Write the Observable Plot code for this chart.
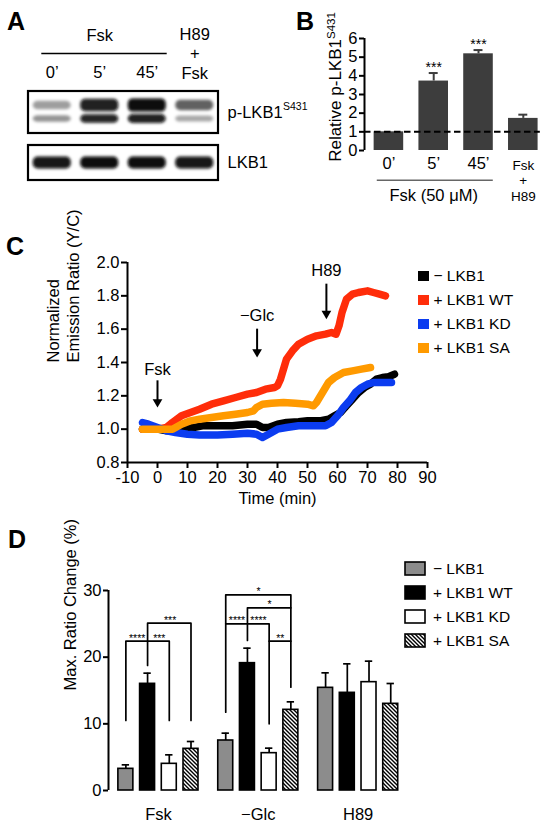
<!DOCTYPE html>
<html><head><meta charset="utf-8">
<script src="https://cdn.jsdelivr.net/npm/d3@7"></script>
<script src="https://cdn.jsdelivr.net/npm/@observablehq/plot@0.6"></script>
<style>
body{margin:0;background:#fff;}
#fig{position:relative;width:548px;height:830px;overflow:hidden;font-family:"Liberation Sans",Arial,Helvetica,sans-serif;color:#000;}
#fig svg{position:absolute;overflow:visible;}
.letter{position:absolute;font-weight:bold;font-size:25px;line-height:1;}
</style></head><body><div id="fig"></div>
<script>
// ---------- Panel A (western blot) ----------
const blotLanes = ["0’", "5’", "45’", "H89\n+\nFsk"];
const pLKB1Upper = [0.38, 0.92, 1.0, 0.62];
const pLKB1Lower = [0.42, 0.9, 0.92, 0.34];
const totalLKB1 = [0.96, 1.0, 1.0, 0.96];

// ---------- Panel B ----------
const bLabels = ["0’", "5’", "45’", "Fsk\n+\nH89"];
const bValues = [1.0, 3.72, 5.18, 1.72];
const bErrors = [0, 0.43, 0.2, 0.2];
const bStars = ["", "***", "***", ""];
const bTicks = [0, 1, 2, 3, 4, 5, 6];

// ---------- Panel C ----------
const cSeries = ["− LKB1", "+ LKB1 WT", "+ LKB1 KD", "+ LKB1 SA"];
const cColors = ["#000000", "#ff2d0a", "#0b3cf0", "#ff9a00"];
const traceNoLKB1 = [[-5,1.00],[-3,1.01],[0,1.00],[3,0.99],[6,0.99],[9,1.00],[12,1.01],[15,1.02],[20,1.02],[25,1.02],[30,1.03],[33,1.03],[35,1.01],[37,1.01],[40,1.03],[43,1.04],[47,1.045],[50,1.05],[54,1.05],[57,1.06],[59,1.08],[61,1.10],[63,1.14],[65,1.18],[67,1.22],[69,1.25],[71,1.27],[73,1.30],[75,1.31],[77,1.315],[79,1.33]];
const traceWT = [[-5,1.00],[0,1.00],[3,1.01],[5,1.04],[8,1.08],[11,1.10],[14,1.12],[18,1.15],[22,1.17],[26,1.19],[30,1.21],[33,1.22],[36,1.24],[39,1.25],[40,1.26],[41,1.30],[42,1.36],[43,1.42],[45,1.47],[47,1.51],[50,1.54],[53,1.56],[56,1.57],[58,1.58],[59.5,1.57],[60.5,1.62],[61.5,1.70],[63,1.78],[65,1.81],[67,1.82],[70,1.83],[72,1.82],[74,1.81],[76,1.80]];
const traceKD = [[-5,1.04],[-3,1.03],[0,1.01],[3,0.99],[6,0.98],[10,0.97],[14,0.965],[20,0.965],[25,0.97],[30,0.975],[33,0.97],[35,0.95],[37,0.97],[40,1.00],[43,1.01],[47,1.02],[50,1.02],[53,1.02],[56,1.02],[58,1.04],[60,1.08],[62,1.13],[64,1.17],[66,1.22],[68,1.25],[70,1.27],[72,1.28],[75,1.28],[78,1.28]];
const traceSA = [[-5,1.00],[-2,1.00],[0,1.00],[3,1.00],[5,1.00],[8,1.03],[11,1.05],[14,1.06],[18,1.07],[22,1.08],[26,1.09],[30,1.10],[32,1.11],[33,1.13],[35,1.15],[38,1.155],[42,1.16],[46,1.155],[50,1.15],[52,1.14],[53,1.16],[55,1.22],[57,1.28],[59,1.31],[62,1.34],[65,1.35],[68,1.36],[71,1.37]];
const cEvents = ["Fsk", "−Glc", "H89"];
const cEventTime = [0, 33.2, 56.3];
const cEventTip = [1.13, 1.43, 1.66];
const cEventTop = [1.29, 1.60, 1.87];
const cEventLabelY = [1.355, 1.68, 1.95];
const cXTicks = [-10, 0, 10, 20, 30, 40, 50, 60, 70, 80, 90];
const cYTicks = [0.8, 1.0, 1.2, 1.4, 1.6, 1.8, 2.0];

// ---------- Panel D ----------
const dGroups = ["Fsk", "−Glc", "H89"];
const dSeries = ["− LKB1", "+ LKB1 WT", "+ LKB1 KD", "+ LKB1 SA"];
const dFills = ["#8c8c8c", "#000000", "#ffffff", "url(#hatch)"];
const dFsk = [3.25, 16.0, 4.0, 6.25];
const dFskErr = [0.6, 1.6, 1.35, 1.1];
const dGlc = [7.5, 19.1, 5.6, 12.1];
const dGlcErr = [1.1, 2.25, 0.75, 1.2];
const dH89 = [15.4, 14.65, 16.25, 13.0];
const dH89Err = [2.25, 4.35, 3.15, 3.05];
const dTicks = [0, 10, 20, 30];
// significance brackets: group, from bar, to bar, level, end of left leg, end of right leg
const brGroup = [0, 0, 1, 1, 1, 1];
const brFrom = [0, 1, 0, 1, 0, 2];
const brTo = [2, 3, 3, 3, 2, 3];
const brLevel = [22.4, 25.1, 29.35, 27.4, 25.0, 22.4];
const brFromEnd = [10.5, 18.75, 11.75, 22.5, 25.0, 22.4];
const brToEnd = [10.5, 10.5, 15.5, 27.4, 10.0, 22.4];
const starGroup = [0, 0, 0, 1, 1, 1, 1, 1];
const starPos = [0.52, 1.54, 2.04, 1.51, 2.02, 0.52, 1.51, 2.51];
const starLevel = [22.4, 22.4, 25.1, 29.35, 27.4, 25.0, 25.0, 22.4];
const starText = ["****", "***", "***", "*", "*", "****", "****", "**"];

const FONT = '"Liberation Sans", Arial, Helvetica, sans-serif';
const fig = document.getElementById("fig");
function place(el, left, top) { el.style.left = left + "px"; el.style.top = top + "px"; fig.appendChild(el); return el; }
const baseStyle = (fs) => ({fontFamily: FONT, fontSize: fs + "px", background: "none", color: "#000", overflow: "visible"});

// ================= Panel A =================
const laneIdx = d3.range(blotLanes.length);
const bands = [];
laneIdx.forEach(i => {
  const hu = 3 + 3.6 * pLKB1Upper[i], hl = 2.2 + 2.4 * pLKB1Lower[i];
  bands.push({lane: i, y1: 105 - hu, y2: 105 + hu, k: pLKB1Upper[i]});
  bands.push({lane: i, y1: 118.5 - hl, y2: 118.5 + hl, k: pLKB1Lower[i]});
  bands.push({lane: i, y1: 156.5, y2: 168.5, k: totalLKB1[i]});
});
const plotA = Plot.plot({
  width: 320, height: 190, margin: 0,
  x: {domain: [-0.5, 3.5], range: [28, 218], axis: null},
  y: {domain: [0, 190], range: [0, 190], axis: null},
  style: baseStyle(16.5),
  marks: [
    Plot.rect([0], {x1: -0.5, x2: 3.5, y1: 91, y2: 133, fill: "white"}),
    Plot.rect([0], {x1: -0.5, x2: 3.5, y1: 145, y2: 180, fill: "white"}),
    Plot.rect(bands, {x1: d => d.lane - 0.4, x2: d => d.lane + 0.4, y1: "y1", y2: "y2", rx: 5, fill: "#080808", fillOpacity: "k", ariaDescription: "bands"}),
    Plot.rect([0], {x1: -0.5, x2: 3.5, y1: 91, y2: 133, fill: "none", stroke: "black", strokeWidth: 2.2}),
    Plot.rect([0], {x1: -0.5, x2: 3.5, y1: 145, y2: 180, fill: "none", stroke: "black", strokeWidth: 2.2}),
    Plot.text(["Fsk"], {x: 1, y: 35}),
    Plot.ruleY([53], {x1: -0.22, x2: 2.42, strokeWidth: 1.5}),
    Plot.text(blotLanes.slice(0, 3), {x: (d, i) => i, y: 72}),
    Plot.text([blotLanes[3]], {x: 3, y: 52.5, lineHeight: 1.2}),
    Plot.text(["p-LKB1"], {x: 3.69, y: 112, textAnchor: "start"}),
    Plot.text(["S431"], {x: 3.69, y: 106, dx: 55.5, textAnchor: "start", fontSize: 10.5}),
    Plot.text(["LKB1"], {x: 3.69, y: 162.5, textAnchor: "start"})
  ]
});
{
  const defs = d3.select(plotA).insert("defs", ":first-child");
  defs.append("filter").attr("id", "blotblur").attr("x", "-30%").attr("y", "-80%").attr("width", "160%").attr("height", "260%")
    .append("feGaussianBlur").attr("stdDeviation", 1.5);
  let g = d3.select(plotA).selectAll('g[aria-description="bands"]');
  if (g.empty()) g = d3.select(plotA).selectAll("rect[rx]");
  g.attr("filter", "url(#blotblur)");
}
place(plotA, 0, 0);

// ================= Panel B =================
const bIdx = d3.range(bValues.length);
const bErrIdx = bIdx.filter(i => bErrors[i] > 0);
const plotB = Plot.plot({
  width: 268, height: 200, marginLeft: 84, marginTop: 38, marginBottom: 50, marginRight: 2.8,
  x: {domain: [-0.545, 3.5], range: [84, 265.2], axis: null},
  y: {domain: [0, 6], axis: null},
  style: baseStyle(16.5),
  marks: [
    Plot.rect(bIdx, {x1: i => i - 0.33, x2: i => i + 0.33, y1: 0, y2: i => bValues[i], fill: "#3d3d3d"}),
    Plot.ruleX(bErrIdx, {x: i => i, y1: i => bValues[i], y2: i => bValues[i] + bErrors[i], stroke: "#3d3d3d", strokeWidth: 2}),
    Plot.ruleY(bErrIdx, {y: i => bValues[i] + bErrors[i], x1: i => i - 0.1, x2: i => i + 0.1, stroke: "#3d3d3d", strokeWidth: 2}),
    Plot.ruleY([1], {x1: -0.545, x2: 3.38, strokeDasharray: "6.5,3.5", strokeWidth: 2}),
    Plot.text(bIdx, {x: i => i, y: i => bValues[i] + bErrors[i], text: i => bStars[i], lineAnchor: "bottom", dy: -1, fontSize: 14}),
    Plot.ruleX([-0.545], {y1: 0, y2: 6, strokeWidth: 2}),
    Plot.axisY({ticks: bTicks, tickFormat: d => String(d), tickSize: 5, tickPadding: 2, strokeWidth: 2, label: null}),
    Plot.text(bLabels.slice(0, 3), {x: (d, i) => i, y: 0, dy: 13}),
    Plot.text([bLabels[3]], {x: 3, y: 0, dy: 8, lineAnchor: "top", lineHeight: 1.16, fontSize: 13.5}),
    Plot.ruleY([-1.6], {x1: -0.26, x2: 2.33, stroke: "#666", strokeWidth: 1.5}),
    Plot.text(["Fsk (50 μM)"], {x: 1, y: -2.4})
  ]
});
{
  const t = d3.select(plotB).append("text").attr("transform", "translate(61,87) rotate(-90)")
    .attr("text-anchor", "middle").attr("fill", "black").style("font-size", "17px");
  t.append("tspan").text("Relative p-LKB1");
  t.append("tspan").attr("dy", "-0.55em").style("font-size", "11.5px").text("S431");
}
place(plotB, 280, 0);

// ================= Panel C =================
const cTraces = [traceNoLKB1, traceWT, traceKD, traceSA];
const cData = cTraces.flatMap((tr, si) => tr.map(([t, r]) => ({s: cSeries[si], t, r})));
const evIdx = d3.range(cEvents.length);
const plotC = Plot.plot({
  width: 548, height: 300, marginLeft: 127, marginRight: 121, marginTop: 42, marginBottom: 58,
  x: {domain: [-10, 90], axis: null},
  y: {domain: [0.8, 2.0], axis: null},
  color: {domain: cSeries, range: cColors},
  style: baseStyle(16.5),
  marks: [
    Plot.line(cData, {x: "t", y: "r", z: "s", stroke: "s", strokeWidth: 7.5, strokeLinejoin: "round"}),
    Plot.ruleX(evIdx, {x: i => cEventTime[i], y1: i => cEventTip[i] + 0.04, y2: i => cEventTop[i], strokeWidth: 2}),
    Plot.dot(evIdx, {x: i => cEventTime[i], y: i => cEventTip[i] + 0.033, symbol: "triangle", r: 3.6, rotate: 180, fill: "black", stroke: "none"}),
    Plot.text(evIdx, {x: i => cEventTime[i], y: i => cEventLabelY[i], text: i => cEvents[i]}),
    Plot.ruleX([-10], {y1: 0.8, y2: 2.0, strokeWidth: 2}),
    Plot.ruleY([0.8], {x1: -10, x2: 90, strokeWidth: 2}),
    Plot.axisY({ticks: cYTicks, tickFormat: d3.format(".1f"), tickSize: 6, tickPadding: 2, strokeWidth: 2, label: null}),
    Plot.axisX({ticks: cXTicks, tickFormat: d => String(d), tickSize: 6, tickPadding: 3, strokeWidth: 2, label: null}),
    Plot.text(["Normalized\nEmission Ratio (Y/C)"], {frameAnchor: "left", rotate: -90, dx: -65, lineHeight: 1.2}),
    Plot.text(["Time (min)"], {frameAnchor: "bottom", dy: 41})
  ]
});
place(plotC, 0, 220);

const legendC = Plot.plot({
  width: 143, height: 100, margin: 0,
  x: {type: "band", domain: ["s"], range: [11, 25], axis: null},
  y: {type: "band", domain: cSeries, range: [2, 98], paddingInner: 0.58, paddingOuter: 0.29, axis: null},
  color: {domain: cSeries, range: cColors},
  style: baseStyle(15.5),
  marks: [
    Plot.cell(cSeries, {x: () => "s", y: d => d, fill: d => d}),
    Plot.text(cSeries, {x: () => "s", y: d => d, text: d => d, textAnchor: "start", dx: 9.5})
  ]
});
place(legendC, 405, 262);

// ================= Panel D =================
const dValues = [dFsk, dGlc, dH89];
const dErrs = [dFskErr, dGlcErr, dH89Err];
const GSTEP = 4.6;
const dData = [];
dGroups.forEach((g, gi) => dSeries.forEach((s, si) => dData.push({g, s, pos: gi * GSTEP + si, v: dValues[gi][si], e: dErrs[gi][si]})));
const brPts = [];
brGroup.forEach((g, k) => {
  const b = g * GSTEP;
  brPts.push({k, x: b + brFrom[k], y: brFromEnd[k]}, {k, x: b + brFrom[k], y: brLevel[k]},
             {k, x: b + brTo[k], y: brLevel[k]}, {k, x: b + brTo[k], y: brToEnd[k]});
});
const starIdx = d3.range(starText.length);
const groupCenters = dGroups.map((g, i) => i * GSTEP + 1.5);
const plotD = Plot.plot({
  width: 548, height: 290, marginLeft: 108, marginRight: 118.7, marginTop: 50, marginBottom: 40,
  x: {domain: [-0.8, 14], axis: null},
  y: {domain: [0, 30], axis: null},
  color: {domain: dSeries, range: dFills},
  style: baseStyle(16.5),
  marks: [
    Plot.ruleX(dData, {x: "pos", y1: "v", y2: d => d.v + d.e, strokeWidth: 1.7}),
    Plot.ruleY(dData, {y: d => d.v + d.e, x1: d => d.pos - 0.17, x2: d => d.pos + 0.17, strokeWidth: 1.7}),
    Plot.rect(dData, {x1: d => d.pos - 0.345, x2: d => d.pos + 0.345, y1: 0, y2: "v", fill: "s", stroke: "black", strokeWidth: 1.6}),
    Plot.line(brPts, {x: "x", y: "y", z: "k", stroke: "black", strokeWidth: 1.7}),
    Plot.text(starIdx, {x: i => starGroup[i] * GSTEP + starPos[i], y: i => starLevel[i], text: i => starText[i], lineAnchor: "bottom", dy: 0.5, fontSize: 10.5, fill: "black"}),
    Plot.ruleX([-0.8], {y1: 0, y2: 30, strokeWidth: 2}),
    Plot.axisY({ticks: dTicks, tickFormat: d => String(d), tickSize: 5, tickPadding: 2, strokeWidth: 2, label: null}),
    Plot.axisX({ticks: groupCenters, tickFormat: d => dGroups[Math.round((d - 1.5) / GSTEP)], tickSize: 0, tickPadding: 18, label: null}),
    Plot.text(["Max. Ratio Change (%)"], {frameAnchor: "left", rotate: -90, dx: -38})
  ]
});
{
  const defs = d3.select(plotD).insert("defs", ":first-child");
  const pat = defs.append("pattern").attr("id", "hatch").attr("patternUnits", "userSpaceOnUse").attr("width", 4).attr("height", 4);
  pat.append("rect").attr("width", 4).attr("height", 4).attr("fill", "white");
  pat.append("path").attr("d", "M-1,-1L5,5M-1,3L1,5M3,-1L5,1").attr("stroke", "black").attr("stroke-width", 1.4);
}
place(plotD, 0, 540);

const legendD = Plot.plot({
  width: 153, height: 110, margin: 0,
  x: {type: "band", domain: ["s"], range: [7, 32], axis: null},
  y: {type: "band", domain: dSeries, range: [4.6, 103.4], paddingInner: 0.47, paddingOuter: 0.235, axis: null},
  color: {domain: dSeries, range: dFills},
  style: baseStyle(15.5),
  marks: [
    Plot.cell(dSeries, {x: () => "s", y: d => d, fill: d => d, stroke: "black", strokeWidth: 1.6}),
    Plot.text(dSeries, {x: () => "s", y: d => d, text: d => d, textAnchor: "start", dx: 17.5})
  ]
});
place(legendD, 395, 550);

// panel letters
[["A", 7, 9], ["B", 296, 9], ["C", 6, 234], ["D", 8, 527]].forEach(([t, x, y]) => {
  const d = document.createElement("div");
  d.className = "letter"; d.textContent = t; place(d, x, y);
});
</script></body></html>
